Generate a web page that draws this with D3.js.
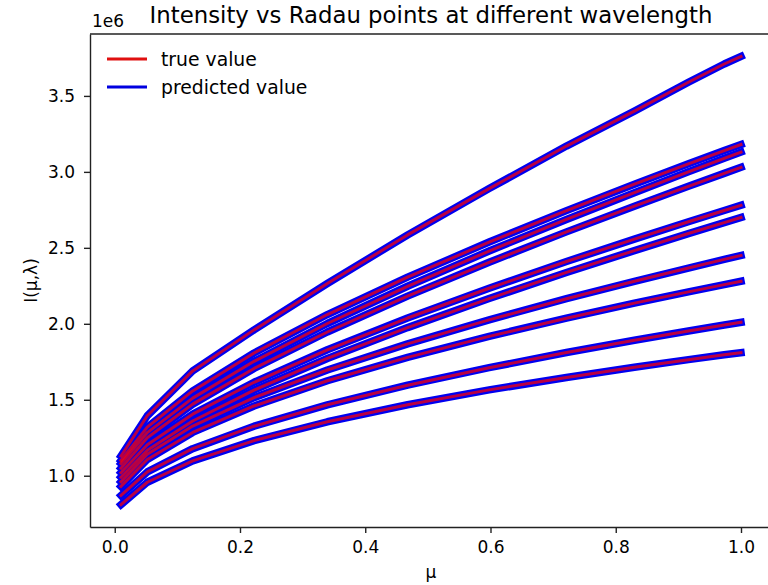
<!DOCTYPE html>
<html><head><meta charset="utf-8">
<script src="https://cdn.jsdelivr.net/npm/d3@7"></script>
<style>
body{margin:0;background:#fff}
svg{display:block}
text{font-family:"DejaVu Sans",sans-serif;fill:#000}
</style>
</head><body>
<svg id="chart" width="768" height="585"></svg>
<script>
// Radau points (mu) used as x values
const mu = [0.0100, 0.0520, 0.1245, 0.2225, 0.3395, 0.4676, 0.5978, 0.7213, 0.8298, 0.9160, 0.9732, 1.0];

// Intensity at each wavelength, in units of 1e6
const wl1  = [1.130, 1.395, 1.690, 1.960, 2.265, 2.585, 2.890, 3.170, 3.400, 3.590, 3.710, 3.760];
const wl2  = [1.100, 1.320, 1.558, 1.808, 2.061, 2.307, 2.538, 2.745, 2.919, 3.053, 3.140, 3.180];
const wl3  = [1.080, 1.284, 1.511, 1.753, 2.002, 2.247, 2.479, 2.687, 2.863, 3.000, 3.089, 3.130];
const wl4  = [1.050, 1.250, 1.471, 1.706, 1.946, 2.182, 2.405, 2.605, 2.774, 2.905, 2.990, 3.030];
const wl5  = [1.020, 1.204, 1.405, 1.615, 1.829, 2.038, 2.234, 2.410, 2.557, 2.672, 2.746, 2.780];
const wl6  = [0.990, 1.167, 1.360, 1.564, 1.772, 1.975, 2.166, 2.338, 2.482, 2.594, 2.666, 2.700];
const wl7  = [0.960, 1.141, 1.327, 1.514, 1.696, 1.868, 2.026, 2.165, 2.280, 2.367, 2.424, 2.450];
const wl8  = [0.930, 1.107, 1.285, 1.459, 1.625, 1.779, 1.917, 2.037, 2.136, 2.210, 2.258, 2.280];
const wl9  = [0.870, 1.025, 1.178, 1.326, 1.467, 1.596, 1.711, 1.811, 1.892, 1.953, 1.992, 2.010];
const wl10 = [0.810, 0.957, 1.098, 1.231, 1.355, 1.467, 1.565, 1.647, 1.714, 1.764, 1.796, 1.810];

const trueValues = [wl1, wl2, wl3, wl4, wl5, wl6, wl7, wl8, wl9, wl10];
// predicted values coincide with the true values at this scale
const predictedValues = [wl1, wl2, wl3, wl4, wl5, wl6, wl7, wl8, wl9, wl10];

const xTicks = [0.0, 0.2, 0.4, 0.6, 0.8, 1.0];
const yTicks = [1.0, 1.5, 2.0, 2.5, 3.0, 3.5];
const legendLabels = ["true value", "predicted value"];

const svg = d3.select("#chart");
const L = 90, R = 772, T = 34, B = 527;

// matplotlib-like 5% margins
const allY = trueValues.flat().concat(predictedValues.flat());
const xMin = d3.min(mu), xMax = d3.max(mu);
const yMin = d3.min(allY), yMax = d3.max(allY);
const xPad = (xMax - xMin) * 0.05, yPad = (yMax - yMin) * 0.05;

const x = d3.scaleLinear().domain([xMin - xPad, xMax + xPad]).range([L, R]);
const y = d3.scaleLinear().domain([yMin - yPad, yMax + yPad]).range([B, T]);

const line = d3.line().x((d, i) => x(mu[i])).y(d => y(d));

const plot = svg.append("g");
// predicted (blue, thick) underneath
plot.selectAll("path.pred").data(predictedValues).join("path")
  .attr("class", "pred")
  .attr("d", line)
  .attr("fill", "none")
  .attr("stroke", "#0000f0")
  .attr("stroke-width", 7.5)
  .attr("stroke-linecap", "square")
  .attr("stroke-linejoin", "round");
// true (red) on top
plot.selectAll("path.true").data(trueValues).join("path")
  .attr("class", "true")
  .attr("d", line)
  .attr("fill", "none")
  .attr("stroke", "#ff0000")
  .attr("stroke-opacity", 0.72)
  .attr("stroke-width", 3)
  .attr("stroke-linecap", "square")
  .attr("stroke-linejoin", "round");

// axes
const fmt = d3.format(".1f");
const xAxis = svg.append("g").attr("transform", `translate(0,${B})`)
  .call(d3.axisBottom(x).tickValues(xTicks).tickFormat(fmt).tickSize(6).tickSizeOuter(0).tickPadding(8));
const yAxis = svg.append("g").attr("transform", `translate(${L},0)`)
  .call(d3.axisLeft(y).tickValues(yTicks).tickFormat(fmt).tickSize(6).tickSizeOuter(0).tickPadding(9));
[xAxis, yAxis].forEach(g => {
  g.attr("font-family", "DejaVu Sans").attr("font-size", 17);
  g.select(".domain").attr("stroke", "#222").attr("stroke-width", 1.4);
  g.selectAll(".tick line").attr("stroke", "#222").attr("stroke-width", 1.4);
  g.selectAll(".tick text").attr("fill", "#222");
});
// top and right spines
svg.append("line").attr("x1", L).attr("x2", R).attr("y1", T).attr("y2", T)
  .attr("stroke", "#222").attr("stroke-width", 1.4);
svg.append("line").attr("x1", R).attr("x2", R).attr("y1", T).attr("y2", B)
  .attr("stroke", "#222").attr("stroke-width", 1.4);

// texts
svg.append("text").attr("x", 431).attr("y", 23).attr("text-anchor", "middle")
  .attr("font-size", 22.8).attr("fill", "#222").text("Intensity vs Radau points at different wavelength");
svg.append("text").attr("x", 92).attr("y", 27).attr("font-size", 17).attr("fill", "#222").text("1e6");
svg.append("text").attr("x", 431).attr("y", 578).attr("text-anchor", "middle")
  .attr("font-size", 17).attr("fill", "#222").text("μ");
svg.append("text").attr("transform", `translate(37,${(T + B) / 2}) rotate(-90)`).attr("text-anchor", "middle")
  .attr("font-size", 17).attr("fill", "#222").text("I(μ,λ)");

// legend
const legendColors = ["#e01010", "#0000e0"];
const lg = svg.append("g");
legendLabels.forEach((lab, i) => {
  const yy = 59 + i * 28;
  lg.append("line").attr("x1", 107).attr("x2", 147).attr("y1", yy).attr("y2", yy)
    .attr("stroke", legendColors[i]).attr("stroke-width", 2.8);
  lg.append("text").attr("x", 161).attr("y", yy + 6.5).attr("font-size", 18.8).attr("fill", "#222").text(lab);
});
</script>
</body></html>
